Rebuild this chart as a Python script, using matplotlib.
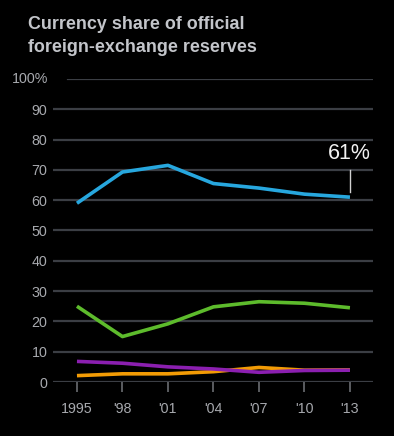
import matplotlib
matplotlib.use('Agg')
import matplotlib.pyplot as plt

years = [1995, 1998, 2001, 2004, 2007, 2010, 2013]
year_labels = ['1995', "'98", "'01", "'04", "'07", "'10", "'13"]
usd = [59, 69.3, 71.5, 65.5, 64, 62, 61]
eur = [25, 15, 19.2, 24.8, 26.5, 26, 24.5]
jpy = [6.8, 6.2, 5.0, 4.3, 3.2, 3.8, 3.9]
gbp = [2.1, 2.7, 2.7, 3.4, 4.8, 3.9, 4.0]
yticks = [0, 10, 20, 30, 40, 50, 60, 70, 80, 90, 100]

bg = '#000000'
grid_c = '#3b3e44'
text_c = '#a7a9ae'

plt.rcParams['font.family'] = ['Liberation Sans', 'DejaVu Sans']

fig = plt.figure(figsize=(3.94, 4.36), dpi=100, facecolor=bg)
ax = fig.add_axes([53 / 394, 54 / 436, 320 / 394, 303 / 436], facecolor=bg)

ax.set_xlim(1993.42, 2014.52)
ax.set_ylim(0, 100)

# gridlines (100 line starts further right because of the % sign)
for v in yticks:
    xmin = 15 / 320 if v == 100 else 0
    ax.axhline(v, xmin=xmin, xmax=1, color=grid_c, lw=1.6, zorder=1)

ax.plot(years, gbp, color='#f29b05', lw=2.6, zorder=3, solid_capstyle='butt')
ax.plot(years, jpy, color='#8b1fb0', lw=2.6, zorder=4, solid_capstyle='butt')
ax.plot(years, eur, color='#5dbb2c', lw=2.6, zorder=3, solid_capstyle='butt')
ax.plot(years, usd, color='#27a7de', lw=2.6, zorder=3, solid_capstyle='butt')

for s in ax.spines.values():
    s.set_visible(False)

ax.set_yticks(yticks)
ax.set_yticklabels([str(v) if v != 100 else '' for v in yticks])
ax.tick_params(axis='y', length=0, pad=4, labelsize=10.3, labelcolor=text_c)
ax.text(-0.015, 100, '100%', transform=ax.get_yaxis_transform(), ha='right',
        va='center', fontsize=10.3, color=text_c)

ax.set_xticks(years)
ax.set_xticklabels(year_labels)
ax.tick_params(axis='x', length=7.5, width=1.2, color='#6a6d72', pad=7,
               labelsize=10.3, labelcolor=text_c)

# 61% callout
ax.plot([years[-1], years[-1]], [usd[-1] + 1.6, usd[-1] + 9], color='#d0d0d0', lw=1.0, zorder=5)
ax.text(years[-1] + 1.4, usd[-1] + 11, '%d%%' % usd[-1], ha='right', va='bottom',
        fontsize=15.5, color='#f2f2f2')

fig.text(28 / 394, 1 - 36 / 436, 'Currency share of official\nforeign-exchange reserves',
         ha='left', va='center', fontsize=12.9, fontweight='bold', color='#c3c5ca',
         linespacing=1.4)

fig.savefig('out.png', dpi=100, facecolor=bg)
